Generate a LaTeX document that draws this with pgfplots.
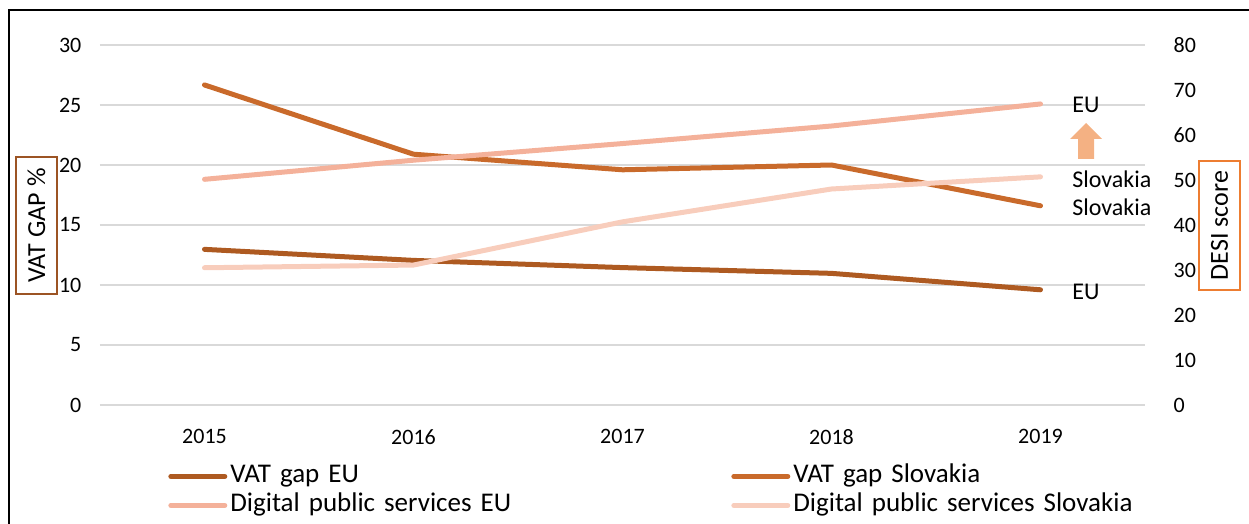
\documentclass[border=0pt]{standalone}
\usepackage{fontspec}
\setmainfont{Carlito}
\usepackage{pgfplots}
\pgfplotsset{compat=1.18}

\definecolor{vateu}{HTML}{AE5A21}
\definecolor{vatsk}{HTML}{C96A2B}
\definecolor{dpseu}{HTML}{F4B19A}
\definecolor{dpssk}{HTML}{F8CDBC}
\definecolor{gridc}{HTML}{D9D9D9}
\definecolor{vatbox}{HTML}{9C5424}
\definecolor{desibox}{HTML}{ED7D31}
\definecolor{arrowc}{HTML}{F4B183}

\begin{document}
\begin{tikzpicture}
\path[use as bounding box] (0,0) rectangle (624.5pt,262pt);
\draw[line width=1pt] (4.5pt,0) -- (4.5pt,257pt) -- (624.5pt,257pt);

\begin{axis}[
  at={(50pt,59.5pt)}, anchor=south west,
  scale only axis, width=522.5pt, height=180pt,
  xmin=-0.5, xmax=4.5, ymin=0, ymax=30,
  xtick={0,1,2,3,4}, xticklabels={2015,2016,2017,2018,2019},
  ytick={0,5,...,30},
  axis line style={draw=none}, major tick length=0pt,
  ymajorgrids, grid style={color=gridc, line width=0.75pt},
  tick label style={font=\fontsize{11}{13}\selectfont},
  /pgf/number format/assume math mode=true,
  yticklabel style={xshift=-5.8pt},
  xticklabel style={yshift=-8.8pt},
  ylabel={VAT GAP \%},
  ylabel style={draw=vatbox, line width=0.6pt, minimum width=68.5pt, minimum height=20.5pt,
    inner sep=0pt, font=\fontsize{13}{15}\selectfont,
    at={(axis description cs:-0.0608,0.4986)}, anchor=center},
]
\addplot[vateu, line width=2.5pt, line cap=round, line join=round] coordinates {(0,12.97) (1,12.05) (2,11.45) (3,10.97) (4,9.6)};
\addplot[vatsk, line width=2.5pt, line cap=round, line join=round] coordinates {(0,26.67) (1,20.9) (2,19.6) (3,20.0) (4,16.6)};
\end{axis}

\begin{axis}[
  at={(50pt,59.5pt)}, anchor=south west,
  scale only axis, width=522.5pt, height=180pt,
  xmin=-0.5, xmax=4.5, ymin=0, ymax=80,
  axis y line*=right, axis x line=none,
  ytick={0,10,...,80},
  axis line style={draw=none}, major tick length=0pt,
  tick label style={font=\fontsize{11}{13}\selectfont},
  /pgf/number format/assume math mode=true,
  yticklabel style={anchor=west, xshift=10.8pt},
  ylabel={DESI score},
  ylabel style={draw=desibox, line width=0.6pt, minimum width=64.5pt, minimum height=20.5pt,
    inner sep=0pt, font=\fontsize{13}{15}\selectfont,
    at={(axis description cs:1.0713,0.4986)}, anchor=center},
  legend columns=2,
  legend cell align=left,
  legend style={at={(axis description cs:0.065,-0.157)}, anchor=north west, draw=none, fill=none,
    inner sep=0pt, font=\fontsize{13.5}{15}\selectfont,
    nodes={text width=249pt, align=left, inner xsep=1.5pt, inner ysep=1pt, text height=9.5pt, text depth=3pt}},
  legend image code/.code={\draw[#1, line cap=round] (0pt,0pt) -- (27pt,0pt);},
]
\addlegendimage{vateu, line width=2.5pt}
\addlegendentry{VAT gap EU}
\addlegendimage{vatsk, line width=2.5pt}
\addlegendentry{VAT gap Slovakia}
\addplot[dpseu, line width=2.5pt, line cap=round, line join=round] coordinates {(0,50.15) (1,54.4) (2,58.1) (3,62.0) (4,66.9)};
\addlegendentry{Digital public services EU}
\addplot[dpssk, line width=2.5pt, line cap=round, line join=round] coordinates {(0,30.5) (1,31.1) (2,40.7) (3,48.0) (4,50.7)};
\addlegendentry{Digital public services Slovakia}
\end{axis}

\begin{scope}[x=0.5pt, y=-0.5pt, yshift=262pt]
\node[anchor=west, inner sep=0pt, font=\fontsize{12}{14}\selectfont] at (1072,105) {EU};
\node[anchor=west, inner sep=0pt, font=\fontsize{12}{14}\selectfont] at (1072,179) {Slovakia};
\node[anchor=west, inner sep=0pt, font=\fontsize{12}{14}\selectfont] at (1072,207) {Slovakia};
\node[anchor=west, inner sep=0pt, font=\fontsize{12}{14}\selectfont] at (1072,292) {EU};
\fill[arrowc] (1078,159) -- (1094,159) -- (1094,139) -- (1102,139) -- (1086,123) -- (1070,139) -- (1078,139) -- cycle;
\end{scope}
\end{tikzpicture}
\end{document}
